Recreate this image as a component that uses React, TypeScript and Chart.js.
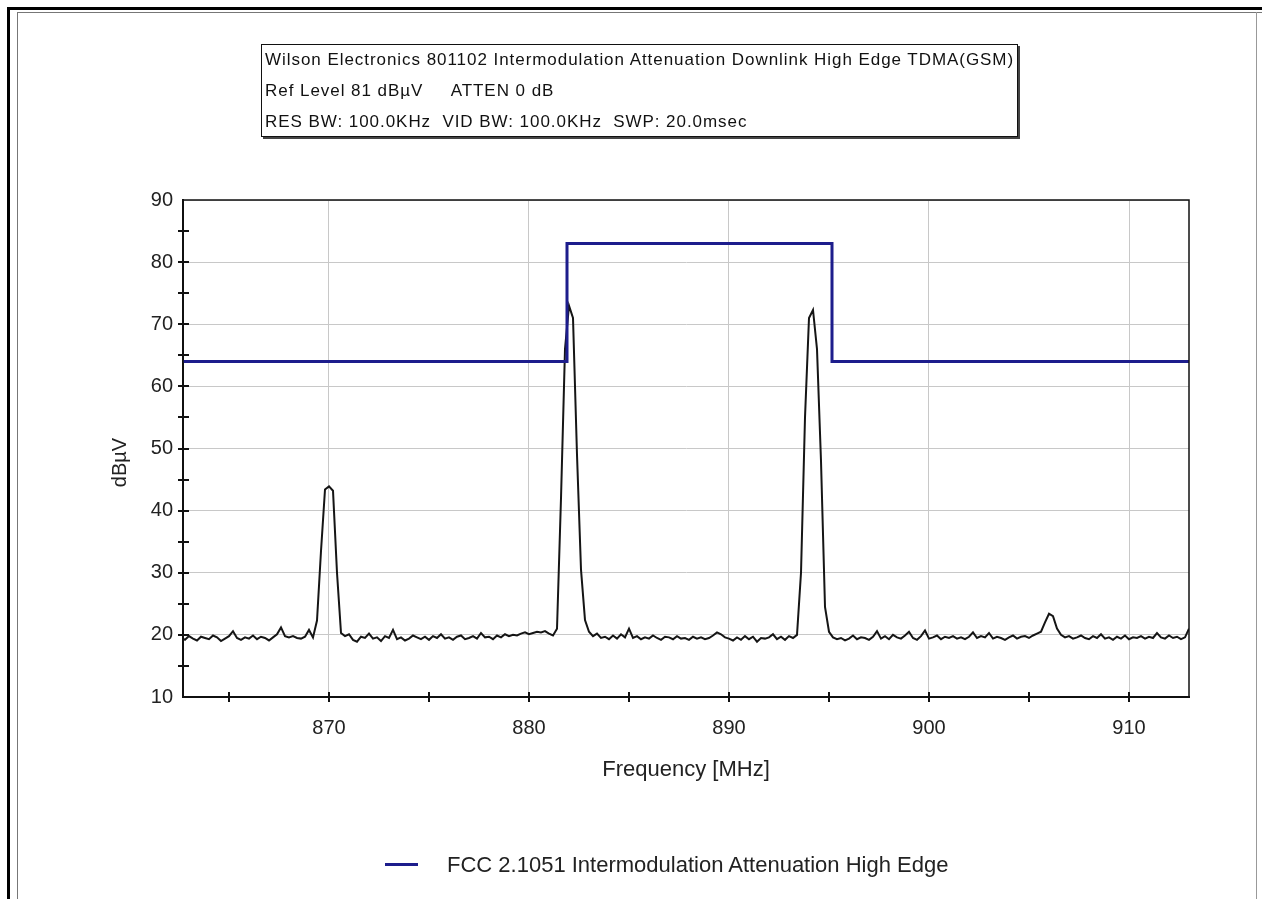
import React, { useEffect, useRef } from "react";
import { Chart, registerables } from "chart.js";

Chart.register(...registerables);

// ---- data ----
const TITLE_LINES = [
  "Wilson Electronics 801102 Intermodulation Attenuation Downlink High Edge TDMA(GSM)",
  "Ref Level 81 dBµV     ATTEN 0 dB",
  "RES BW: 100.0KHz  VID BW: 100.0KHz  SWP: 20.0msec",
];
const X_TITLE = "Frequency [MHz]";
const Y_TITLE = "dBµV";
const LEGEND_LABEL = "FCC 2.1051 Intermodulation Attenuation High Edge";

const X_MIN = 862.7;
const X_MAX = 913;
const Y_MIN = 10;
const Y_MAX = 90;
const X_TICKS = [870, 880, 890, 900, 910];
const Y_TICKS = [10, 20, 30, 40, 50, 60, 70, 80, 90];
const X_MINOR = [865, 870, 875, 880, 885, 890, 895, 900, 905, 910];
const Y_MINOR = [15, 20, 25, 30, 35, 40, 45, 50, 55, 60, 65, 70, 75, 80, 85];

// sweep: first frequency and spacing of the measured points
const SWEEP_START = 862.6;
const SWEEP_STEP = 0.2;
// measured level (dBµV) at each sweep point
const SPECTRUM = [
  19.6, 19.2,
  19.8, 19.4, 19.1, 19.7, 19.5, // 863
  19.3, 19.9, 19.6, 19.0, 19.4, // 864
  19.8, 20.6, 19.5, 19.2, 19.6, // 865
  19.4, 19.9, 19.3, 19.7, 19.5, // 866
  19.1, 19.6, 20.1, 21.2, 19.8, // 867
  19.6, 19.8, 19.5, 19.4, 19.7, // 868
  20.8, 19.6, 22.3, 33.5, 43.4, // 869
  43.9, 43.2, 30.0, 20.3, 19.8, // 870
  20.1, 19.2, 18.9, 19.7, 19.5, // 871
  20.2, 19.4, 19.6, 19.0, 19.8, // 872
  19.5, 20.8, 19.3, 19.6, 19.1, // 873
  19.4, 19.9, 19.6, 19.3, 19.7, // 874
  19.2, 19.8, 19.5, 20.1, 19.4, // 875
  19.6, 19.2, 19.7, 19.9, 19.3, // 876
  19.5, 19.8, 19.4, 20.3, 19.6, // 877
  19.7, 19.3, 19.9, 19.6, 20.1, // 878
  19.8, 20.0, 19.9, 20.2, 20.4, // 879
  20.1, 20.3, 20.5, 20.4, 20.6, // 880
  20.2, 19.9, 21.0, 42.0, 66.0, // 881
  73.0, 71.0, 49.0, 30.5, 22.4, // 882
  20.5, 19.8, 20.2, 19.5, 19.7, // 883
  19.3, 19.9, 19.4, 20.1, 19.6, // 884
  21.0, 19.5, 19.8, 19.3, 19.6, // 885
  19.4, 19.9, 19.5, 19.2, 19.7, // 886
  19.6, 19.3, 19.8, 19.4, 19.5, // 887
  19.2, 19.7, 19.4, 19.6, 19.3, // 888
  19.5, 19.9, 20.4, 20.1, 19.6, // 889
  19.4, 19.1, 19.6, 19.2, 19.8, // 890
  19.3, 19.7, 18.9, 19.5, 19.4, // 891
  19.6, 20.1, 19.3, 19.7, 19.2, // 892
  19.8, 19.5, 20.0, 30.0, 55.0, // 893
  71.0, 72.3, 66.0, 48.0, 24.5, // 894
  20.5, 19.6, 19.3, 19.5, 19.1, // 895
  19.4, 19.9, 19.3, 19.6, 19.5, // 896
  19.2, 19.7, 20.6, 19.4, 19.8, // 897
  19.3, 20.0, 19.6, 19.4, 19.9, // 898
  20.5, 19.5, 19.2, 19.8, 20.7, // 899
  19.4, 19.6, 19.9, 19.3, 19.7, // 900
  19.5, 19.8, 19.4, 19.6, 19.3, // 901
  19.7, 20.4, 19.5, 19.8, 19.6, // 902
  20.3, 19.4, 19.7, 19.5, 19.2, // 903
  19.6, 19.9, 19.4, 19.7, 19.8, // 904
  19.5, 19.9, 20.2, 20.5, 22.0, // 905
  23.4, 23.0, 21.0, 20.0, 19.6, // 906
  19.8, 19.4, 19.6, 19.9, 19.5, // 907
  19.3, 19.8, 19.5, 20.1, 19.4, // 908
  19.6, 19.2, 19.7, 19.4, 19.9, // 909
  19.3, 19.6, 19.5, 19.8, 19.4, // 910
  19.7, 19.5, 20.3, 19.6, 19.4, // 911
  19.9, 19.5, 19.7, 19.3, 19.6, // 912
  21.0,
];

// limit mask corners
const LIMIT_X = [862.7, 881.9, 881.9, 895.15, 895.15, 913];
const LIMIT_Y = [64, 64, 83, 83, 64, 64];

const LIMIT_COLOR = "#1d1d8c";
const FONT = "'Liberation Sans', Arial, sans-serif";

const frameTicks = {
  id: "frameTicks",
  afterDatasetsDraw(chart: any) {
    const { ctx, chartArea, scales } = chart;
    const { left, right, top, bottom } = chartArea;
    ctx.save();
    ctx.strokeStyle = "#111";
    ctx.lineWidth = 1.5;
    ctx.strokeRect(left, top, right - left, bottom - top);
    ctx.lineWidth = 2;
    ctx.beginPath();
    X_MINOR.forEach((v) => {
      const px = Math.round(scales.x.getPixelForValue(v));
      ctx.moveTo(px, bottom - 5);
      ctx.lineTo(px, bottom + 5);
    });
    Y_MINOR.forEach((v) => {
      const py = Math.round(scales.y.getPixelForValue(v));
      ctx.moveTo(left - 5, py);
      ctx.lineTo(left + 6, py);
    });
    ctx.stroke();
    // y axis title, placed a little below the axis centre as in the source
    ctx.fillStyle = "#222";
    ctx.font = `20px ${FONT}`;
    ctx.textAlign = "center";
    ctx.textBaseline = "middle";
    ctx.translate(left - 63, (top + bottom) / 2 + 14);
    ctx.rotate(-Math.PI / 2);
    ctx.fillText(Y_TITLE, 0, 0);
    ctx.restore();
  },
};

export default function App() {
  const ref = useRef<HTMLCanvasElement | null>(null);

  useEffect(() => {
    if (!ref.current) return;
    const spectrumPts = SPECTRUM.map((y, i) => ({ x: SWEEP_START + i * SWEEP_STEP, y }));
    const limitPts = LIMIT_X.map((x, i) => ({ x, y: LIMIT_Y[i] }));
    const chart = new Chart(ref.current, {
      type: "scatter",
      data: {
        datasets: [
          {
            label: LEGEND_LABEL,
            data: limitPts,
            showLine: true,
            borderColor: LIMIT_COLOR,
            backgroundColor: LIMIT_COLOR,
            borderWidth: 3,
            pointRadius: 0,
            order: 0,
          },
          {
            label: "Trace",
            data: spectrumPts,
            showLine: true,
            borderColor: "#151515",
            backgroundColor: "#151515",
            borderWidth: 2,
            pointRadius: 0,
            order: 1,
          },
        ],
      },
      options: {
        responsive: false,
        animation: false,
        layout: { padding: { left: 100, top: 200, right: 73, bottom: 112 } },
        plugins: {
          legend: { display: false },
          tooltip: { enabled: false },
        },
        scales: {
          x: {
            type: "linear",
            min: X_MIN,
            max: X_MAX,
            afterBuildTicks: (s: any) => {
              s.ticks = X_TICKS.map((v) => ({ value: v }));
            },
            afterFit: (s: any) => {
              s.height = 90;
            },
            grid: { color: "#c8c8c8", lineWidth: 1, drawTicks: false },
            border: { display: true, color: "#111", width: 2 },
            ticks: { color: "#222", font: { family: FONT, size: 20 }, padding: 19, maxRotation: 0 },
            title: {
              display: true,
              text: X_TITLE,
              color: "#222",
              font: { family: FONT, size: 22 },
              padding: { top: 0, bottom: 4 },
            },
          },
          y: {
            type: "linear",
            min: Y_MIN,
            max: Y_MAX,
            afterBuildTicks: (s: any) => {
              s.ticks = Y_TICKS.map((v) => ({ value: v }));
            },
            afterFit: (s: any) => {
              s.width = 83;
            },
            grid: { color: "#c8c8c8", lineWidth: 1, drawTicks: false },
            border: { display: true, color: "#111", width: 2 },
            ticks: { color: "#222", font: { family: FONT, size: 20 }, padding: 10 },
            title: { display: false },
          },
        },
      },
      plugins: [frameTicks],
    } as any);
    return () => chart.destroy();
  }, []);

  return (
    <div
      style={{
        position: "fixed",
        left: 0,
        top: 0,
        width: 1262,
        height: 899,
        background: "#fff",
        overflow: "hidden",
        fontFamily: FONT,
      }}
    >
      {/* outer frame */}
      <div style={{ position: "absolute", left: 7, top: 7, width: 1262, height: 3, background: "#000" }} />
      <div style={{ position: "absolute", left: 7, top: 7, width: 3, height: 899, background: "#000" }} />
      <div style={{ position: "absolute", left: 17, top: 12, width: 1245, height: 1, background: "#777" }} />
      <div style={{ position: "absolute", left: 17, top: 12, width: 1, height: 899, background: "#777" }} />
      <div style={{ position: "absolute", left: 1256, top: 12, width: 1, height: 899, background: "#999" }} />

      <canvas ref={ref} width={1262} height={899} style={{ position: "absolute", left: 0, top: 0 }} />

      {/* info box */}
      <div
        style={{
          position: "absolute",
          left: 261,
          top: 44,
          width: 757,
          height: 93,
          border: "1.5px solid #111",
          boxShadow: "2px 2px 0 #444",
          background: "#fff",
          color: "#111",
          fontSize: 17,
          letterSpacing: "0.95px",
          whiteSpace: "pre",
          boxSizing: "border-box",
          paddingLeft: 3,
          paddingTop: 1,
        }}
      >
        {TITLE_LINES.map((t, i) => (
          <div key={i} style={{ height: 31, lineHeight: "27px" }}>{t}</div>
        ))}
      </div>

      {/* legend */}
      <div style={{ position: "absolute", left: 385, top: 863, width: 33, height: 3, background: LIMIT_COLOR }} />
      <div
        style={{
          position: "absolute",
          left: 447,
          top: 851,
          fontSize: 22,
          lineHeight: "28px",
          color: "#222",
          whiteSpace: "pre",
        }}
      >
        {LEGEND_LABEL}
      </div>
    </div>
  );
}
